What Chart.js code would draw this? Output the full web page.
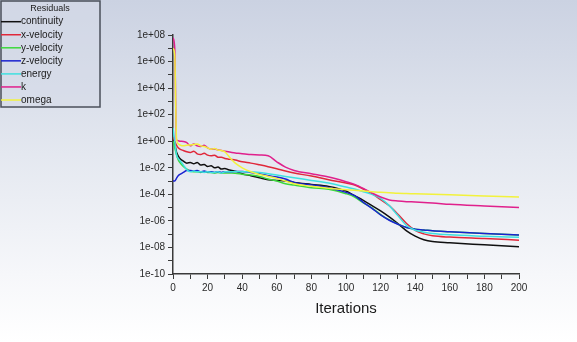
<!DOCTYPE html>
<html>
<head>
<meta charset="utf-8">
<script src="https://cdn.jsdelivr.net/npm/chart.js@4/dist/chart.umd.min.js"></script>
<style>
  html, body { margin: 0; padding: 0; }
  body { width: 577px; height: 342px; overflow: hidden;
         background: linear-gradient(to bottom, #cbd2e2 0%, #e4e8f0 45%, #f6f7fa 80%, #ffffff 100%); }
  #wrap { position: absolute; left: 0; top: 0; width: 577px; height: 342px; }
</style>
</head>
<body>
<div id="wrap"><canvas id="c" width="577" height="342"></canvas></div>
<script>
const iters = [0,1,2,3,4,6,8,10,12,14,16,18,20,22,24,26,28,30,32,34,36,40,45,50,55,60,65,70,80,90,100,105,110,115,120,125,130,135,140,145,150,160,180,200];

// Residual values, stored as log10 of the residual
const continuityLog = [0.2,-0.2,-0.8,-1.1,-1.3,-1.5,-1.65,-1.6,-1.7,-1.6,-1.8,-1.75,-1.9,-1.85,-2.0,-1.95,-2.1,-2.05,-2.15,-2.2,-2.25,-2.45,-2.6,-2.75,-2.9,-2.95,-3.0,-3.1,-3.25,-3.4,-3.75,-4.1,-4.45,-4.85,-5.25,-5.7,-6.2,-6.75,-7.15,-7.42,-7.56,-7.65,-7.8,-7.95];
const xVelocityLog = [0.3,0.0,-0.3,-0.5,-0.6,-0.7,-0.8,-0.85,-0.75,-0.95,-1.0,-0.9,-1.05,-1.1,-1.05,-1.2,-1.2,-1.3,-1.35,-1.38,-1.42,-1.55,-1.65,-1.78,-1.92,-2.08,-2.25,-2.4,-2.62,-2.9,-3.15,-3.3,-3.6,-3.95,-4.4,-4.85,-5.5,-6.2,-6.72,-6.98,-7.12,-7.22,-7.33,-7.45];
const yVelocityLog = [0.0,-0.5,-1.0,-1.4,-1.6,-1.9,-2.1,-2.25,-2.3,-2.3,-2.35,-2.3,-2.35,-2.35,-2.4,-2.35,-2.4,-2.4,-2.4,-2.4,-2.42,-2.48,-2.55,-2.65,-2.85,-3.0,-3.2,-3.3,-3.5,-3.62,-3.95,-4.2,-4.65,-5.02,-5.52,-5.93,-6.24,-6.5,-6.62,-6.68,-6.75,-6.82,-6.95,-7.06];
const zVelocityLog = [-3.0,-3.0,-2.8,-2.6,-2.5,-2.35,-2.2,-2.2,-2.25,-2.2,-2.3,-2.25,-2.3,-2.3,-2.35,-2.3,-2.35,-2.3,-2.3,-2.3,-2.28,-2.28,-2.35,-2.45,-2.6,-2.7,-2.85,-3.1,-3.3,-3.5,-3.85,-4.1,-4.6,-5.05,-5.55,-5.95,-6.25,-6.5,-6.62,-6.68,-6.75,-6.82,-6.95,-7.06];
const energyLog = [1.0,0.0,-1.0,-1.3,-1.45,-1.8,-2.15,-2.3,-2.25,-2.3,-2.3,-2.35,-2.3,-2.35,-2.35,-2.3,-2.4,-2.3,-2.3,-2.3,-2.28,-2.3,-2.3,-2.35,-2.45,-2.55,-2.65,-2.75,-2.95,-3.15,-3.45,-3.6,-3.8,-4.0,-4.3,-4.85,-5.6,-6.35,-6.7,-6.85,-6.95,-7.05,-7.15,-7.23];
const kLog = [7.8,7.0,0.1,0.04,0.0,-0.02,-0.1,-0.35,-0.2,-0.35,-0.4,-0.3,-0.5,-0.6,-0.58,-0.65,-0.7,-0.75,-0.8,-0.85,-0.88,-0.95,-1.0,-1.04,-1.1,-1.55,-1.95,-2.2,-2.45,-2.7,-3.05,-3.25,-3.55,-3.9,-4.2,-4.42,-4.5,-4.55,-4.58,-4.62,-4.65,-4.75,-4.88,-5.0];
const omegaLog = [7.0,6.5,0.3,-0.2,-0.28,-0.35,-0.3,-0.28,-0.25,-0.2,-0.35,-0.4,-0.5,-0.6,-0.55,-0.66,-0.7,-0.8,-1.1,-1.4,-1.65,-2.0,-2.3,-2.5,-2.65,-2.8,-3.0,-3.2,-3.4,-3.55,-3.65,-3.7,-3.75,-3.8,-3.85,-3.88,-3.92,-3.94,-3.96,-3.98,-4.0,-4.04,-4.12,-4.2];

const seriesNames = ['continuity','x-velocity','y-velocity','z-velocity','energy','k','omega'];
const seriesLogs = [continuityLog, xVelocityLog, yVelocityLog, zVelocityLog, energyLog, kLog, omegaLog];
const seriesColors = ['#101010','#e0283a','#3cd83c','#1a22d0','#3ee0e0','#e0208c','#f2f23c'];

// Y axis decades and x ticks
const yDecades = [-10,-9,-8,-7,-6,-5,-4,-3,-2,-1,0,1,2,3,4,5,6,7,8];
const xTicks = [0,10,20,30,40,50,60,70,80,90,100,110,120,130,140,150,160,170,180,190,200];

const datasets = seriesNames.map((name, s) => ({
  label: name,
  data: iters.map((x, i) => ({ x: x, y: Math.pow(10, seriesLogs[s][i]) })),
  borderColor: seriesColors[s],
  backgroundColor: seriesColors[s],
  borderWidth: 1.5,
  pointRadius: 0,
  fill: false,
  order: seriesNames.length - s,
  cubicInterpolationMode: 'monotone'
}));

const FONT = '"Liberation Sans", Arial, sans-serif';

const legendBox = {
  id: 'legendBox',
  afterDraw(chart) {
    const ctx = chart.ctx;
    ctx.save();
    ctx.fillStyle = 'rgba(214,219,231,0.6)';
    ctx.fillRect(1, 1, 99, 106);
    ctx.strokeStyle = '#4a4f5a';
    ctx.lineWidth = 1.5;
    ctx.strokeRect(1, 1, 99, 106);
    ctx.fillStyle = '#1a1a1a';
    ctx.font = '9px ' + FONT;
    ctx.textAlign = 'center';
    ctx.textBaseline = 'middle';
    ctx.fillText('Residuals', 50, 8.5);
    ctx.textAlign = 'left';
    ctx.font = '10px ' + FONT;
    chart.data.datasets.forEach((ds, i) => {
      const y = 21.7 + i * 13.05;
      ctx.strokeStyle = ds.borderColor;
      ctx.lineWidth = 1.5;
      ctx.beginPath();
      ctx.moveTo(1, y);
      ctx.lineTo(21, y);
      ctx.stroke();
      ctx.fillStyle = '#1a1a1a';
      ctx.fillText(ds.label, 21, y);
    });
    ctx.restore();
  }
};

new Chart(document.getElementById('c'), {
  type: 'line',
  data: { datasets: datasets },
  plugins: [legendBox],
  options: {
    responsive: false,
    animation: false,
    events: [],
    layout: { padding: { top: 35, right: 58, left: 0, bottom: 0 } },
    plugins: { legend: { display: false }, tooltip: { enabled: false } },
    scales: {
      x: {
        type: 'linear',
        min: 0, max: 200,
        afterFit(scale) { scale.height = 68; },
        afterBuildTicks(scale) { scale.ticks = xTicks.map(v => ({ value: v })); },
        ticks: {
          autoSkip: false, maxRotation: 0, padding: 3,
          color: '#2a2a2a',
          font: { family: FONT, size: 10 },
          callback: (v) => (v % 20 === 0 ? String(v) : '')
        },
        grid: {
          drawOnChartArea: false, drawTicks: true, tickLength: 5,
          tickColor: '#3a3a3a', tickWidth: 1
        },
        border: { display: true, color: '#3a3a3a', width: 1.5 },
        title: {
          display: true, text: 'Iterations', color: '#1a1a1a',
          font: { family: FONT, size: 15 },
          padding: { top: 0, bottom: 24 }
        }
      },
      y: {
        type: 'logarithmic',
        min: 1e-10, max: 1e8,
        afterFit(scale) { scale.width = 173; },
        afterBuildTicks(scale) { scale.ticks = yDecades.map(e => ({ value: Math.pow(10, e) })); },
        ticks: {
          autoSkip: false, padding: 3,
          color: '#2a2a2a',
          font: { family: FONT, size: 10 },
          callback: (v) => {
            const e = Math.round(Math.log10(v));
            if (e % 2 !== 0) return '';
            const sign = e < 0 ? '-' : '+';
            const a = Math.abs(e);
            return '1e' + sign + (a < 10 ? '0' + a : String(a));
          }
        },
        grid: {
          drawOnChartArea: false, drawTicks: true, tickLength: 5,
          tickColor: '#3a3a3a', tickWidth: 1
        },
        border: { display: true, color: '#3a3a3a', width: 1.5 }
      }
    }
  }
});
</script>
</body>
</html>
